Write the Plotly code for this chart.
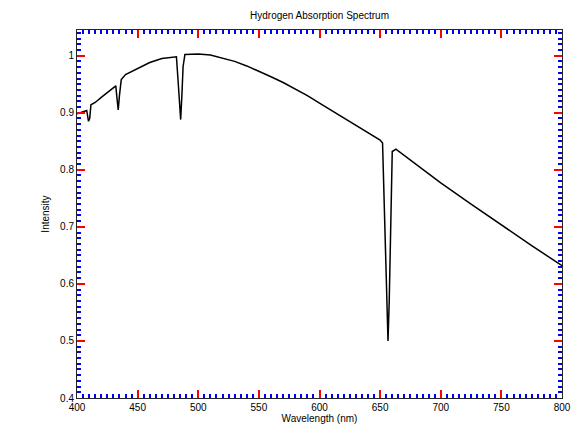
import plotly.graph_objects as go

wavelength = [400, 405, 408, 409.5, 410.5, 411.5, 415, 420, 425, 430, 432, 433, 434, 435, 436.5,
              440, 450, 460, 470, 480, 482, 483.5, 485.5, 486.5, 487.5, 489, 495, 500, 510, 520,
              530, 540, 550, 560, 570, 580, 590, 600, 610, 620, 630, 640, 650, 652, 653, 655,
              656.5, 657.5, 659, 660, 663, 670, 680, 690, 700, 725, 750, 775, 800]
intensity = [0.898, 0.902, 0.904, 0.885, 0.890, 0.914, 0.918, 0.927, 0.936, 0.944, 0.947, 0.925, 0.905, 0.930, 0.958,
             0.967, 0.978, 0.988, 0.995, 0.998, 0.998, 0.952, 0.888, 0.930, 0.981, 1.002, 1.003, 1.003, 1.001, 0.996,
             0.990, 0.982, 0.973, 0.963, 0.953, 0.942, 0.930, 0.917, 0.904, 0.890, 0.877, 0.864, 0.852, 0.847, 0.777, 0.628,
             0.500, 0.569, 0.725, 0.832, 0.836, 0.825, 0.808, 0.792, 0.777, 0.740, 0.703, 0.667, 0.632]

x_range = [400, 800]
x_major_step = 50
x_minor_step = 5
y_range = [0.4, 1.045]
y_major_step = 0.1
y_minor_step = 0.01

fig = go.Figure()
fig.add_trace(go.Scatter(x=wavelength, y=intensity, mode="lines",
                         line=dict(color="black", width=1.5),
                         showlegend=False))

FAM = "Liberation Sans, Arial, sans-serif"
W, H = 578, 431
TICK = "rgb(0,0,0)"
fig.update_layout(
    width=W, height=H, template="simple_white",
    margin=dict(l=69, r=24, t=22, b=41),
    title=dict(text="Hydrogen Absorption Spectrum", x=(69 + (W - 24)) / 2 / W, xanchor="center",
               y=1 - 7 / H, yanchor="middle", font=dict(family=FAM, size=10, color="black")),
)
fig.update_xaxes(range=x_range, ticks="inside", ticklen=8, tickwidth=2, tickcolor="red",
                 showline=True, mirror="allticks", dtick=x_major_step,
                 minor=dict(ticks="inside", dtick=x_minor_step, ticklen=4, tickcolor="blue"),
                 tickfont=dict(family=FAM, size=10, color="black"),
                 title=dict(text="Wavelength (nm)", standoff=2,
                            font=dict(family=FAM, size=10, color="black")))
fig.update_yaxes(range=y_range, ticks="inside", ticklen=8, tickwidth=2, tickcolor="red",
                 showline=True, mirror="allticks", dtick=y_major_step,
                 minor=dict(ticks="inside", dtick=y_minor_step, ticklen=4, tickcolor="blue"),
                 tickfont=dict(family=FAM, size=10, color="black"),
                 title=dict(text="Intensity", standoff=8,
                            font=dict(family=FAM, size=10, color="black")))
fig.write_html("out.html")
